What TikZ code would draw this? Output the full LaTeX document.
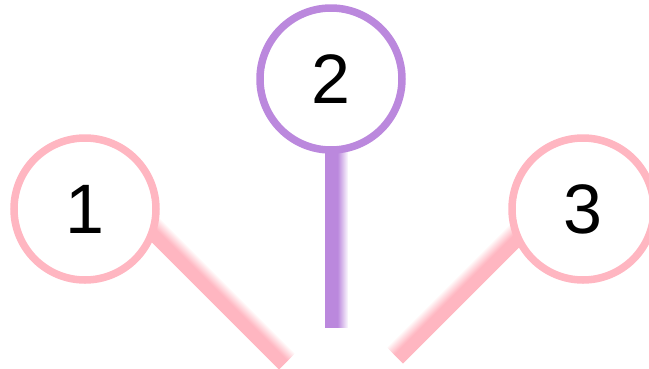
\documentclass[tikz,border=0pt]{standalone}
\usepackage{fontspec}
\setmainfont{Liberation Sans}
\usetikzlibrary{calc}
\definecolor{pinkc}{RGB}{255,182,193}
\definecolor{purplec}{RGB}{187,136,221}
% #1 start, #2 end (on solid edge), #3 unit normal towards fade, #4 colour, #5 solid width, #6 fade width
\newcommand\glowstick[6]{%
  \foreach \i in {20,19,...,0}{%
    \pgfmathsetmacro\w{#5+#6*\i/20}%
    \pgfmathsetmacro\h{0.5*\w}%
    \pgfmathsetmacro\m{100-4.6*\i}%
    \draw[line width=\w pt, #4!\m!white, line cap=butt]
      ($(#1)+\h*(#3)$) -- ($(#2)+\h*(#3)$);
  }%
}
\tikzset{
  bubble/.style={circle, draw=#1, fill=white, line width=7.5pt,
    minimum size=142pt, inner sep=0pt,
    font=\fontsize{70}{84}\selectfont, text=black}
}
\begin{document}
\begin{tikzpicture}[x=1pt,y=-1pt]
\useasboundingbox (0,0) rectangle (649,368);
% stick end points (on the solid edge)
\coordinate (s1a) at (130,220);
\coordinate (s1b) at (279,369);
\coordinate (s2a) at (325,140);
\coordinate (s2b) at (325,328);
\coordinate (s3a) at (540,226);
\coordinate (s3b) at (403,363);
\glowstick{s1a}{s1b}{0.7071,-0.7071}{pinkc}{12}{10}
\glowstick{s2a}{s2b}{1,0}{purplec}{13}{10}
\glowstick{s3a}{s3b}{-0.7071,-0.7071}{pinkc}{12}{10}
% circles
\node[bubble=pinkc] (c1) at (85,209) {1};
\node[bubble=purplec] (c2) at (331,79) {2};
\node[bubble=pinkc] (c3) at (583,209) {3};
\end{tikzpicture}
\end{document}
